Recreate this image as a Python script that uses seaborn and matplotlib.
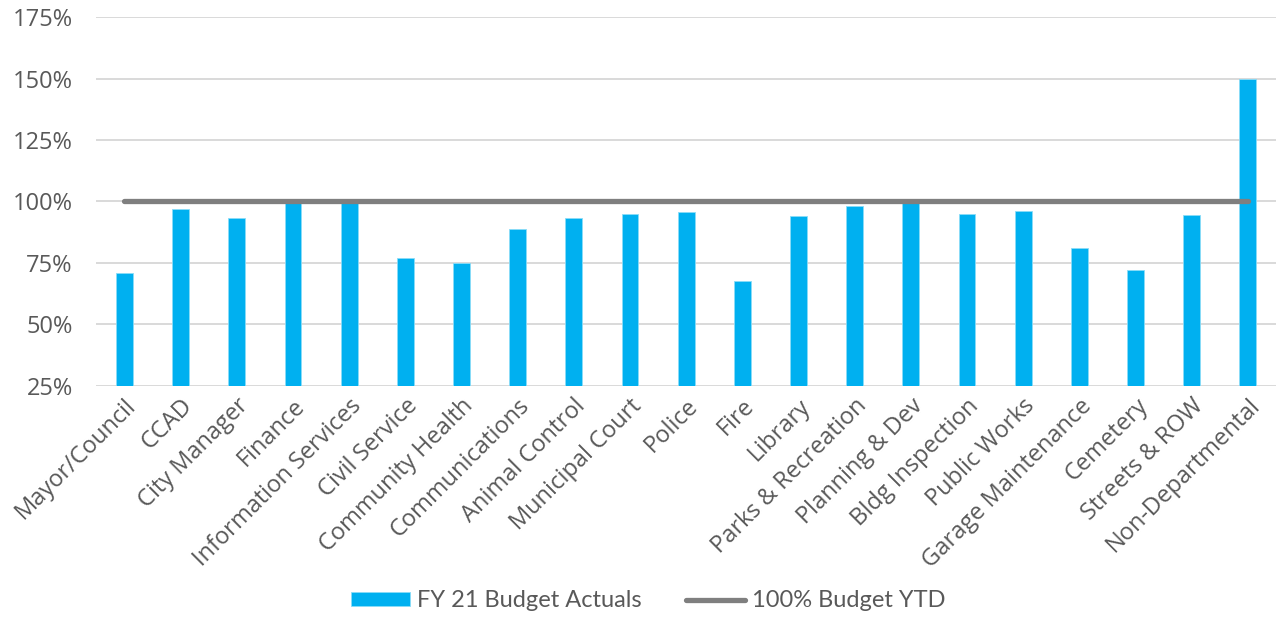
import matplotlib
matplotlib.use("Agg")
import matplotlib.pyplot as plt
from matplotlib.patches import Patch
from matplotlib.lines import Line2D
from matplotlib.ticker import FuncFormatter
import pandas as pd
import seaborn as sns

departments = [
    "Mayor/Council", "CCAD", "City Manager", "Finance", "Information Services",
    "Civil Service", "Community Health", "Communications", "Animal Control",
    "Municipal Court", "Police", "Fire", "Library", "Parks & Recreation",
    "Planning & Dev", "Bldg Inspection", "Public Works", "Garage Maintenance",
    "Cemetery", "Streets & ROW", "Non-Departmental",
]
budget_actuals = [
    70.8, 96.9, 93.2, 99.5, 99.6, 76.9, 74.9, 88.7, 93.2, 94.9, 95.8,
    67.7, 94.2, 98.2, 99.6, 94.9, 96.3, 81.0, 71.9, 94.3, 149.8,
]
budget_ytd = [
    100, 100, 100, 100, 100, 100, 100, 100, 100, 100, 100,
    100, 100, 100, 100, 100, 100, 100, 100, 100, 100,
]
y_ticks = [25, 50, 75, 100, 125, 150, 175]

BLUE = "#00B0F0"
GREY_LINE = "#7F7F7F"
TEXT = "#595959"
GRID = "#D9D9D9"

df = pd.DataFrame({"department": departments,
                   "actuals": budget_actuals,
                   "ytd": budget_ytd})

sns.set_theme(style="white")
plt.rcParams["font.family"] = ["Open Sans", "DejaVu Sans"]

fig = plt.figure(figsize=(12.76, 6.18), dpi=100)
ax = fig.add_axes([0.0755, 0.376, 0.9245, 0.596])

sns.barplot(data=df, x="department", y="actuals", color=BLUE, width=0.3,
            saturation=1, edgecolor="#8ADCF8", linewidth=0.6, ax=ax, zorder=2)
sns.lineplot(data=df, x="department", y="ytd", color=GREY_LINE, linewidth=3.8,
             solid_capstyle="round", ax=ax, zorder=3, sort=False)

ax.set_ylim(25, 175)
ax.set_xlim(-0.5, len(departments) - 0.5)
ax.set_yticks(y_ticks)
ax.yaxis.set_major_formatter(FuncFormatter(lambda v, _: f"{v:.0f}%"))
ax.yaxis.grid(True, color=GRID, linewidth=1.4, zorder=0)
ax.set_axisbelow(True)
for side in ax.spines.values():
    side.set_visible(False)
ax.set_xlabel("")
ax.set_ylabel("")
ax.tick_params(axis="y", length=0, pad=17, labelsize=17, labelcolor=TEXT)
ax.tick_params(axis="x", length=0, pad=6, labelsize=17, labelcolor=TEXT)
plt.setp(ax.get_xticklabels(), rotation=45, ha="right",
         rotation_mode="anchor")

handles = [
    Patch(facecolor=BLUE, edgecolor="#8ADCF8", linewidth=0.6),
    Line2D([0], [0], color=GREY_LINE, linewidth=3.8, solid_capstyle="round"),
]
fig.legend(handles, ["FY 21 Budget Actuals", "100% Budget YTD"],
           loc="center", bbox_to_anchor=(0.508, 0.028), ncol=2, frameon=False,
           handlelength=2.5, handleheight=0.5, handletextpad=0.3,
           columnspacing=1.9, prop={"family": ["Lato", "DejaVu Sans"], "size": 17},
           labelcolor=TEXT)

fig.savefig("out.png", dpi=100, facecolor="white")
